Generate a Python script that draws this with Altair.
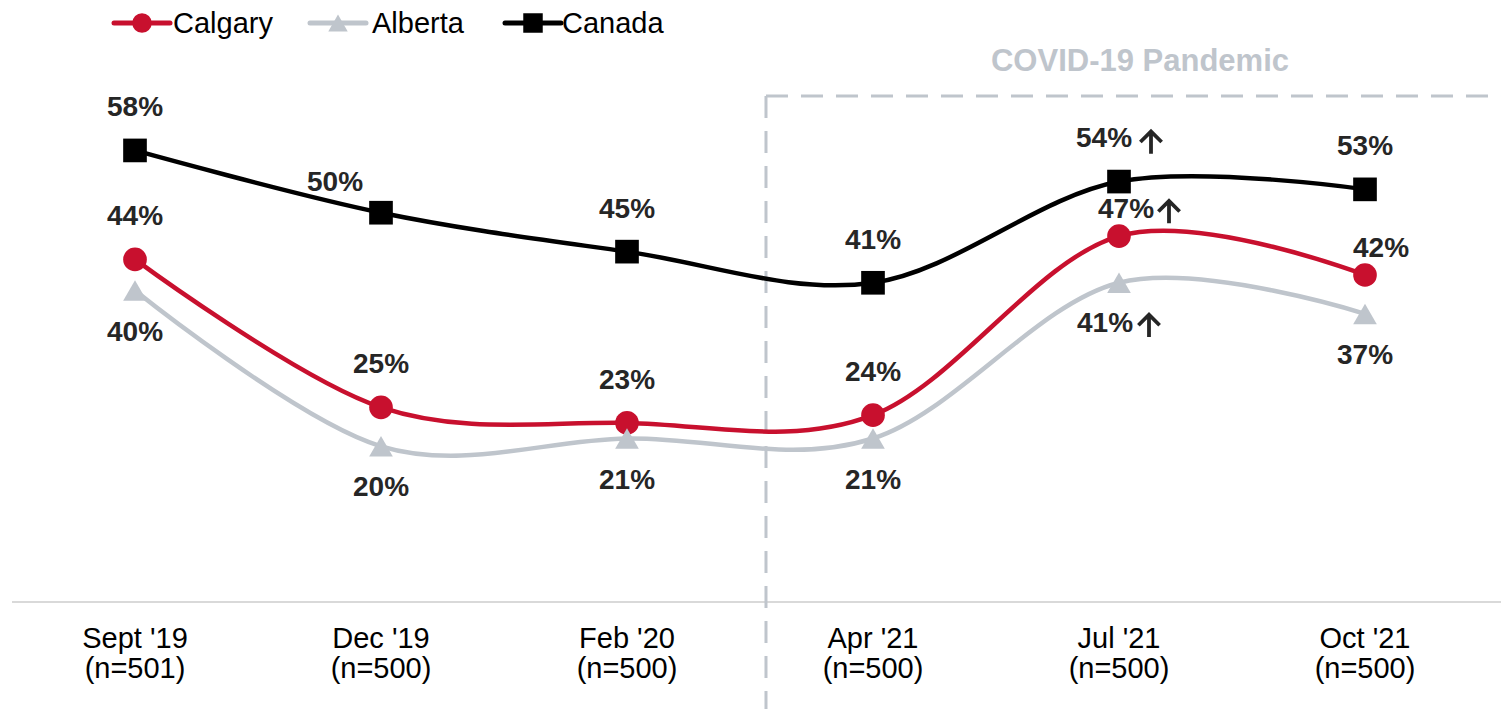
import altair as alt
import pandas as pd

# ---- data ----
months = ["Sept '19", "Dec '19", "Feb '20", "Apr '21", "Jul '21", "Oct '21"]
sample_n = [501, 500, 500, 500, 500, 500]
series = ["Calgary", "Alberta", "Canada"]
calgary = [44, 25, 23, 24, 47, 42]
alberta = [40, 20, 21, 21, 41, 37]
canada = [58, 50, 45, 41, 54, 53]
# significant increase markers (up arrow)
calgary_sig = [False, False, False, False, True, False]
alberta_sig = [False, False, False, False, True, False]
canada_sig = [False, False, False, False, True, False]
annotation_text = "COVID-19 Pandemic"
pandemic_start = "Apr '21"

colors = ["#c8102e", "#bfc5cc", "#000000"]
shapes = ["circle", "triangle-up", "square"]
FONT = "Liberation Sans"
ARROW_PATH = "M0,1 L0,-0.9 M-0.95,-0.05 L0,-1 L0.95,-0.05"

categories = [f"{m}\n(n={n})" for m, n in zip(months, sample_n)]

# label placement (layout, not data)
default_place = {"Calgary": "above", "Alberta": "below", "Canada": "above"}
special_place = {
    ("Canada", "Dec '19"): "upper-left",
    ("Calgary", "Jul '21"): "upper-right",
    ("Calgary", "Oct '21"): "upper-right",
}

rows = []
for s, vals, sig in [("Calgary", calgary, calgary_sig),
                     ("Alberta", alberta, alberta_sig),
                     ("Canada", canada, canada_sig)]:
    for m, c, v, g in zip(months, categories, vals, sig):
        place = special_place.get((s, m), default_place[s])
        rows.append({
            "series": s,
            "cat": c,
            "value": v,
            "label": f"{v}%",
            "place": place + ("-sig" if g else ""),
        })
df = pd.DataFrame(rows)

x_scale = alt.Scale(type="band", paddingInner=0, paddingOuter=0, domain=categories)
x_axis = alt.Axis(title=None, labelExpr="split(datum.label, '\\n')",
                  labelAngle=0, labelFontSize=29, labelFont=FONT,
                  labelColor="#000000", labelLineHeight=30,
                  labelPadding=22, ticks=False, tickSize=0,
                  domain=False, grid=False)


def xe(**kw):
    return alt.X("cat:N", scale=x_scale, axis=x_axis, **kw)


y_scale = alt.Scale(domain=[0, 70])


def ye(field="value"):
    return alt.Y(f"{field}:Q", scale=y_scale, axis=None)


color_enc = alt.Color("series:N", scale=alt.Scale(domain=series, range=colors), legend=None)
shape_enc = alt.Shape("series:N", scale=alt.Scale(domain=series, range=shapes), legend=None)

base = alt.Chart(df)

lines = base.mark_line(interpolate="cardinal", strokeWidth=4.5).encode(
    x=xe(), y=ye(), color=color_enc, detail="series:N")

points = base.mark_point(filled=True, opacity=1, size=560).encode(
    x=xe(), y=ye(), color=color_enc, shape=shape_enc)


def label_layer(place, dx, dy):
    return base.transform_filter(alt.datum.place == place).mark_text(
        font=FONT, fontSize=28, fontWeight="bold", color="#262626",
        baseline="middle", align="center", dx=dx, dy=dy
    ).encode(x=xe(), y=ye(), text="label:N")


def arrow_layer(place, dx, dy):
    return base.transform_filter(alt.datum.place == place).mark_point(
        shape=ARROW_PATH, filled=False, stroke="#262626", strokeWidth=3.8,
        opacity=1, size=500, xOffset=dx, yOffset=dy, strokeCap="butt",
        strokeJoin="miter"
    ).encode(x=xe(), y=ye())


labels = [
    label_layer("above", 0, -42),
    label_layer("below", 0, 42),
    label_layer("upper-left", -46, -30),
    label_layer("upper-right", 16, -26),
    label_layer("above-sig", -15, -43),
    label_layer("below-sig", -14, 41),
    label_layer("upper-right-sig", 7, -26),
    arrow_layer("above-sig", 32, -39),
    arrow_layer("below-sig", 30, 43),
    arrow_layer("upper-right-sig", 50, -24),
]

# axis baseline
axis_line = alt.Chart(pd.DataFrame({"base": [0]})).mark_rule(
    color="#d9d9d9", strokeWidth=2).encode(
    x=alt.value(0), x2=alt.value(1500), y=ye("base"))

# pandemic dashed box
dash = [22, 13]
box_df = pd.DataFrame({"cat": [categories[months.index(pandemic_start)]], "top": [65]})
box_v = alt.Chart(box_df).mark_rule(
    color="#bfc5cc", strokeWidth=3, strokeDash=dash).encode(
    x=xe(bandPosition=0.065), y=ye("top"), y2=alt.value(660))
box_h = alt.Chart(box_df).mark_rule(
    color="#bfc5cc", strokeWidth=3, strokeDash=dash).encode(
    x=xe(bandPosition=0.065), x2=alt.value(1500), y=ye("top"))
text_df = pd.DataFrame({"cat": [categories[4]], "pos": [69.3], "t": [annotation_text]})
box_text = alt.Chart(text_df).mark_text(
    font=FONT, fontSize=31, fontWeight="bold", color="#bfc5cc",
    align="center", baseline="middle", dx=21).encode(
    x=xe(), y=ye("pos"), text="t:N")

# manual legend (line + marker + name)
legend_layers = []
leg_x = [130, 326, 521]
leg_text_x = [161, 360, 550]
for s, c, sh, mx, tx in zip(series, colors, shapes, leg_x, leg_text_x):
    d = pd.DataFrame({"name": [s]})
    legend_layers.append(alt.Chart(d).mark_rule(color=c, strokeWidth=5, strokeCap="round").encode(
        x=alt.value(mx - 28), x2=alt.value(mx + 28), y=alt.value(-34)))
    legend_layers.append(alt.Chart(d).mark_point(filled=True, opacity=1, color=c, shape=sh, size=380).encode(
        x=alt.value(mx), y=alt.value(-34)))
    legend_layers.append(alt.Chart(d).mark_text(font=FONT, fontSize=29, color="#000000",
                                                align="left", baseline="middle").encode(
        x=alt.value(tx), y=alt.value(-33), text="name:N"))

chart = alt.layer(
    axis_line, box_v, box_h, box_text, lines, points, *labels, *legend_layers
).properties(
    width=1476, height=545,
    padding={"left": 4, "top": 49, "right": 13, "bottom": 107},
    autosize=alt.AutoSizeParams(type="none"),
    background="white",
).configure_view(strokeWidth=0)

chart.save("out.html", embed_options={"renderer": "svg", "actions": False})
